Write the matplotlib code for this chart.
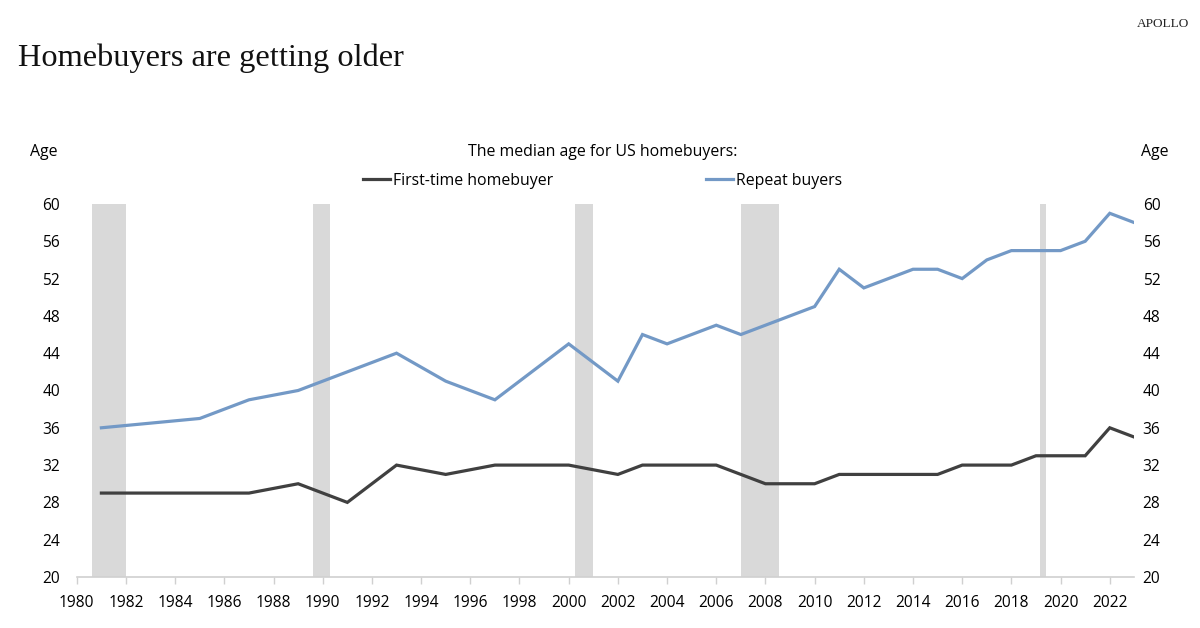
import matplotlib
matplotlib.use("Agg")
from matplotlib import pyplot as plt

# median age of US homebuyers
years = [1981, 1985, 1987, 1989, 1991, 1993, 1995, 1997, 2000, 2002, 2003, 2004,
         2005, 2006, 2007, 2008, 2009, 2010, 2011, 2012, 2013, 2014, 2015, 2016,
         2017, 2018, 2019, 2020, 2021, 2022, 2023]
first_time = [29, 29, 29, 30, 28, 32, 31, 32, 32, 31, 32, 32,
              32, 32, 31, 30, 30, 30, 31, 31, 31, 31, 31, 32,
              32, 32, 33, 33, 33, 36, 35]
repeat = [36, 37, 39, 40, 42, 44, 41, 39, 45, 41, 46, 45,
          46, 47, 46, 47, 48, 49, 53, 51, 52, 53, 53, 52,
          54, 55, 55, 55, 56, 59, 58]

# shaded recession bands (start, end) as placed on the chart
recessions = [(1980.6, 1982.0), (1989.6, 1990.3), (2000.25, 2001.0),
              (2007.0, 2008.55), (2019.15, 2019.4)]

x_ticks = list(range(1980, 2023, 2))
y_ticks = list(range(20, 61, 4))

sans = ["Open Sans", "DejaVu Sans"]
serif = ["Liberation Serif", "DejaVu Serif"]
plt.rcParams["font.family"] = sans

fig = plt.figure(figsize=(12, 6.28), dpi=100)
ax = fig.add_axes([0.064, 0.0812, 0.8813, 0.594])

for start, end in recessions:
    ax.axvspan(start, end, color="#d9d9d9", lw=0, zorder=0)

ax.plot(years, first_time, color="#404040", lw=2.3, label="First-time homebuyer",
        solid_joinstyle="miter", zorder=3)
ax.plot(years, repeat, color="#7399c6", lw=2.3, label="Repeat buyers",
        solid_joinstyle="miter", zorder=3)

ax.set_xlim(1980, 2023)
ax.set_ylim(20, 60)
ax.set_xticks(x_ticks)
ax.set_yticks(y_ticks)

for side in ["top", "left", "right"]:
    ax.spines[side].set_visible(False)
ax.spines["bottom"].set_color("#d0d0d0")
ax.spines["bottom"].set_linewidth(1.2)

ax.tick_params(axis="x", length=5, width=1, color="#d0d0d0", labelsize=11.2,
               labelcolor="#000000", pad=8)
ax.tick_params(axis="y", length=0, labelsize=11.2, labelcolor="#000000", pad=12)

ax2 = ax.twinx()
ax2.set_ylim(20, 60)
ax2.set_yticks(y_ticks)
for side in ["top", "left", "right", "bottom"]:
    ax2.spines[side].set_visible(False)
ax2.tick_params(axis="y", length=0, labelsize=11.2, labelcolor="#000000", pad=6)

fig.text(18 / 1200, 1 - 66 / 628, "Homebuyers are getting older", family=serif,
         fontsize=23.3, color="#111111", ha="left", va="baseline")
fig.text(1163 / 1200, 1 - 24 / 628, "APOLLO", family=serif, fontsize=9.5,
         color="#222222", ha="center", va="center")

fig.text(44 / 1200, 1 - 152 / 628, "Age", fontsize=11.4, ha="center", va="center")
fig.text(1155 / 1200, 1 - 152 / 628, "Age", fontsize=11.4, ha="center", va="center")
fig.text(603 / 1200, 1 - 152 / 628, "The median age for US homebuyers:",
         fontsize=11.4, ha="center", va="center")

fig.legend(loc="center", bbox_to_anchor=(602.5 / 1200, 1 - 181 / 628), ncol=2,
           frameon=False, fontsize=11.4, handlelength=1.7, handletextpad=0.15,
           columnspacing=9.7, borderpad=0, borderaxespad=0)

fig.savefig("out.png", dpi=100, facecolor="white")
